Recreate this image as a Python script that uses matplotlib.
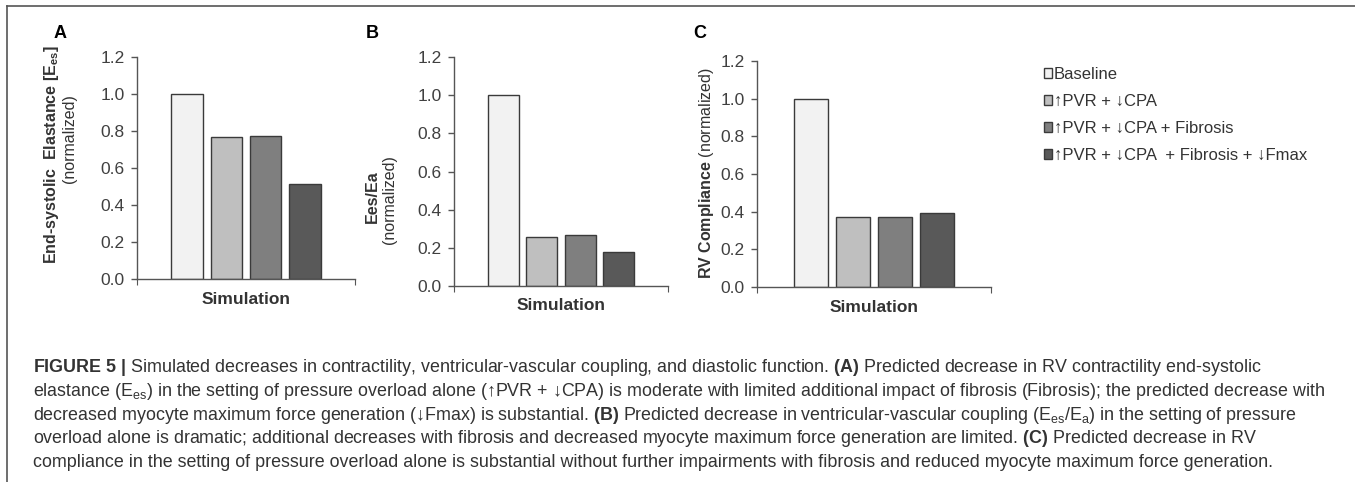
import numpy as np
import matplotlib
matplotlib.use("Agg")
import matplotlib.pyplot as plt

plt.rcParams['font.family'] = ['Liberation Sans', 'DejaVu Sans']
plt.rcParams['mathtext.fontset'] = 'custom'
plt.rcParams['mathtext.rm'] = 'Liberation Sans'
plt.rcParams['mathtext.bf'] = 'Liberation Sans:bold'
plt.rcParams['mathtext.it'] = 'Liberation Sans:italic'

# data
series = ['Baseline', '↑PVR + ↓CPA', '↑PVR + ↓CPA + Fibrosis', '↑PVR + ↓CPA  + Fibrosis + ↓Fmax']
colors = ['#f2f2f2', '#bfbfbf', '#7f7f7f', '#595959']
elastance = [1.0, 0.765, 0.775, 0.515]
coupling = [1.0, 0.258, 0.265, 0.18]
compliance = [1.0, 0.372, 0.372, 0.393]
category = 'Simulation'
yticks = [0.0, 0.2, 0.4, 0.6, 0.8, 1.0, 1.2]

W, H = 1355, 482
fig = plt.figure(figsize=(W / 100, H / 100), dpi=100)


def px(x, y):
    return x / W, 1 - y / H


def panel(rect, values):
    ax = fig.add_axes(rect)
    bars = ax.bar(np.arange(len(values)), values, width=0.8, color=colors,
                  edgecolor='#3a3a3a', linewidth=1.0)
    ax.set_xlim(-1.27, 4.27)
    ax.set_ylim(0, 1.2)
    ax.set_yticks(yticks)
    ax.set_yticklabels([f'{t:.1f}' for t in yticks])
    ax.set_xticks([-1.27, 4.27])
    ax.set_xticklabels(['', ''])
    ax.set_xticks([1.5], [category], minor=True)
    ax.tick_params(axis='x', which='minor', length=0, pad=9,
                   labelsize=12.5, labelcolor='#333333')
    for lab in ax.get_xticklabels(minor=True):
        lab.set_fontweight('bold')
    ax.tick_params(axis='x', which='major', length=4, color='#555555', direction='out')
    ax.tick_params(axis='y', length=4, width=1, color='#555555', pad=5,
                   labelsize=12.5, labelcolor='#404040')
    for s in ['top', 'right']:
        ax.spines[s].set_visible(False)
    for s in ['left', 'bottom']:
        ax.spines[s].set_color('#555555')
        ax.spines[s].set_linewidth(1.0)
    ax.spines['left'].set_bounds(0, 1.2)
    return ax, bars


axA, barsA = panel([137 / W, 1 - 279 / H, 218 / W, 222 / H], elastance)
axB, barsB = panel([454 / W, 1 - 286 / H, 214 / W, 229 / H], coupling)
axC, barsC = panel([757 / W, 1 - 287 / H, 234 / W, 226 / H], compliance)

# panel letters
for letter, x in [('A', 60), ('B', 372), ('C', 700)]:
    fig.text(*px(x, 33), letter, fontsize=13, fontweight='bold',
             ha='center', va='center', color='black')

# y labels
fig.text(*px(52, 155), r'End-systolic  Elastance [$\mathbf{E_{es}}$]', rotation=90,
         fontsize=11.5, fontweight='bold', ha='center', va='center', color='#333333')
fig.text(*px(70, 139), '(normalized)', rotation=90, fontsize=11.5,
         ha='center', va='center', color='#333333')
fig.text(*px(372, 197), 'Ees/Ea', rotation=90, fontsize=11.5, fontweight='bold',
         ha='center', va='center', color='#333333')
fig.text(*px(389, 200), '(normalized)', rotation=90, fontsize=11.5,
         ha='center', va='center', color='#333333')
fig.text(*px(706, 173), r'$\mathbf{RV\ Compliance}$ (normalized)', rotation=90,
         fontsize=11.5, ha='center', va='center', color='#333333')

# legend
leg = fig.legend(barsC, series, loc='upper left', bbox_to_anchor=px(1037, 60),
                 frameon=False, fontsize=12, handlelength=0.5, handleheight=0.5,
                 handletextpad=0.12, labelspacing=0.72, borderaxespad=0)
for t in leg.get_texts():
    t.set_color('#333333')

# frame lines
fig.add_artist(plt.Line2D([7 / W, 1], [1 - 6 / H, 1 - 6 / H], color='#555555', lw=1.2))
fig.add_artist(plt.Line2D([7 / W, 7 / W], [0, 1 - 6 / H], color='#555555', lw=1.2))

# caption
caption = [
    r'$\mathbf{FIGURE\ 5\ |}$ Simulated decreases in contractility, ventricular-vascular coupling, '
    r'and diastolic function. $\mathbf{(A)}$ Predicted decrease in RV contractility end-systolic',
    r'elastance ($\mathdefault{E_{es}}$) in the setting of pressure overload alone (↑PVR + ↓CPA) is '
    r'moderate with limited additional impact of fibrosis (Fibrosis); the predicted decrease with',
    r'decreased myocyte maximum force generation (↓Fmax) is substantial. $\mathbf{(B)}$ Predicted '
    r'decrease in ventricular-vascular coupling ($\mathdefault{E_{es}/E_{a}}$) in the setting of pressure',
    r'overload alone is dramatic; additional decreases with fibrosis and decreased myocyte maximum '
    r'force generation are limited. $\mathbf{(C)}$ Predicted decrease in RV',
    r'compliance in the setting of pressure overload alone is substantial without further '
    r'impairments with fibrosis and reduced myocyte maximum force generation.',
]
baselines = [372, 396, 420, 443, 467]
for line, yb in zip(caption, baselines):
    fig.text(*px(33, yb), line, fontsize=12.9, ha='left', va='baseline', color='#333333')

fig.savefig('out.png', dpi=100)
